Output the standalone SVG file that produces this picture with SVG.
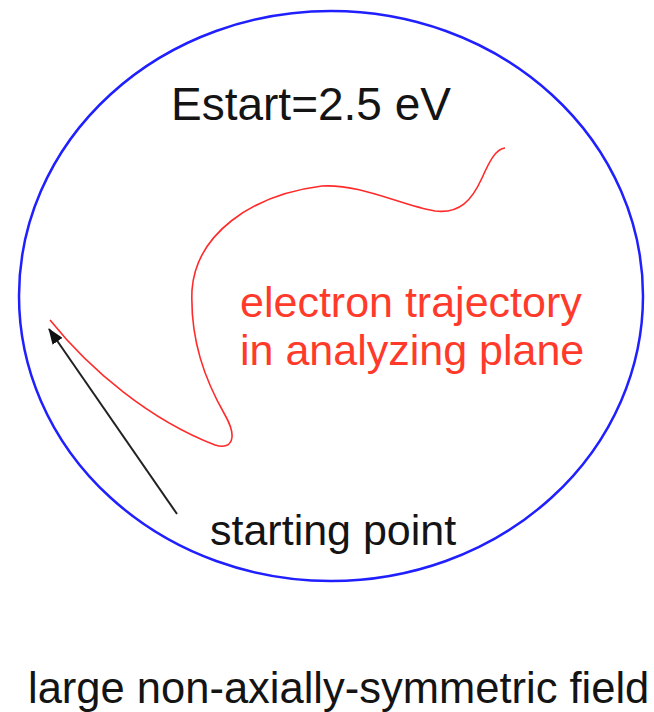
<svg xmlns="http://www.w3.org/2000/svg" width="654" height="712" viewBox="0 0 654 712">
<style>
.lbl{font-family:"Liberation Sans",Arial,sans-serif;fill:#141414}
.red{font-family:"Liberation Sans",Arial,sans-serif;fill:#ff3a2a}
</style>
<defs>
<marker id="ah" markerWidth="16" markerHeight="12" refX="15" refY="6" orient="auto" markerUnits="userSpaceOnUse">
<path d="M0,0 L16,6 L0,12 Z" fill="#111"/>
</marker>
</defs>
<rect width="654" height="712" fill="#fff"/>
<g id="field">
<ellipse cx="331" cy="296" rx="312" ry="285" fill="none" stroke="#1f1fff" stroke-width="2.5"/>
</g>
<g id="trajectory">
<path d="M50,320 C90,370 150,420 215,445 C232,450 238,438 225,415 C205,380 190,340 192,290 C196,235 250,195 322,186 C362,184 400,205 435,211 C460,214 472,200 482,178 C490,160 496,149 505,148" fill="none" stroke="#ff2a2a" stroke-width="1.6"/>
</g>
<g id="connectors">
<line x1="177" y1="514" x2="49" y2="329" stroke="#222" stroke-width="2" marker-end="url(#ah)"/>
</g>
<g id="labels">
<text class="lbl" x="171" y="120" font-size="46">Estart=2.5 eV</text>
<text class="red" x="240" y="317" font-size="43">electron trajectory</text>
<text class="red" x="240" y="365" font-size="43">in analyzing plane</text>
<text class="lbl" x="210" y="545" font-size="43">starting point</text>
<text class="lbl" x="28" y="703" font-size="43.5">large non-axially-symmetric field</text>
</g>
</svg>
